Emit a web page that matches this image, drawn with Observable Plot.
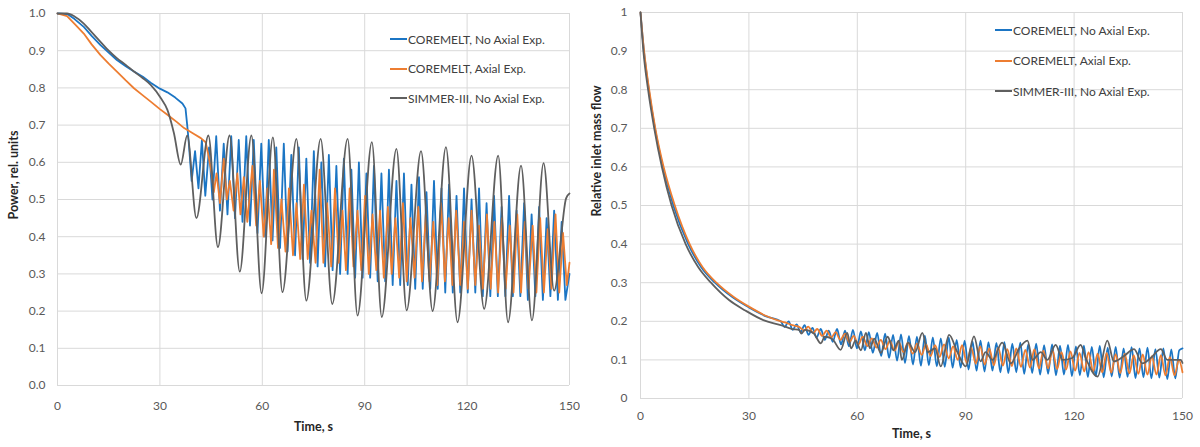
<!DOCTYPE html>
<html>
<head>
<meta charset="utf-8">
<script src="https://cdn.jsdelivr.net/npm/d3@7"></script>
<script src="https://cdn.jsdelivr.net/npm/@observablehq/plot@0.6"></script>
<style>
  html, body { margin: 0; padding: 0; background: #fff; }
  #wrap { display: flex; width: 1200px; height: 447px; }
  .panel { position: relative; }
  .legend { position: absolute; font-family: Lato, sans-serif; font-size: 12px; color: #404040; }
  .legend .row { position: absolute; white-space: nowrap; display: flex; align-items: center; height: 16px; }
  .legend .sw { display: inline-block; width: 17px; height: 0; border-top: 2px solid; margin-right: 1px; }
</style>
</head>
<body>
<div id="wrap">
  <div class="panel" id="left" style="width:580px;height:447px"></div>
  <div class="panel" id="right" style="width:620px;height:447px"></div>
</div>
<script>
// ---------- data ----------
const seriesNames = ["COREMELT, No Axial Exp.", "COREMELT, Axial Exp.", "SIMMER-III, No Axial Exp."];
const seriesColors = ["#1b75c4", "#ed7d31", "#5f5f5f"];
const xTicks = [0, 30, 60, 90, 120, 150];
const powerTicks = [0, 0.1, 0.2, 0.3, 0.4, 0.5, 0.6, 0.7, 0.8, 0.9, 1.0];
const flowTicks = [0, 0.1, 0.2, 0.3, 0.4, 0.5, 0.6, 0.7, 0.8, 0.9, 1];
const powerTitle = "Power, rel. units";
const flowTitle = "Relative inlet mass flow";
const timeTitle = "Time, s";

// Power: COREMELT, No Axial Exp. [time, value]
const powerCoremeltNoAx = [[0,1.0],[3,0.998],[5,0.985],[7.7,0.964],[10,0.94],[12.6,0.915],[15,0.895],[17.4,0.875],[20,0.858],[22.4,0.844],[25,0.83],[27.3,0.814],[30,0.798],[32.2,0.788],[34.5,0.774],[36.6,0.758],[37.5,0.745],[38.0,0.70],[38.4,0.66],
[39.3,0.55],[40.3,0.63],[41.3,0.53],[42.3,0.66],[43.3,0.51],[44.4,0.64],[45.4,0.50],[46.5,0.67],[47.6,0.47],[48.7,0.65],[49.8,0.46],[50.9,0.67],[52.0,0.45],[53.1,0.66],[54.2,0.44],[55.3,0.67],[56.4,0.43],[57.5,0.66],[58.6,0.41],[59.7,0.65],[60.8,0.40],[61.9,0.66],[63.0,0.39],[64.1,0.64],[65.2,0.37],[66.3,0.65],[67.4,0.36],[68.5,0.62],[69.6,0.35],[70.7,0.64],[71.8,0.34],[72.9,0.61],[74.0,0.33],[75.1,0.63],[76.2,0.32],[77.3,0.60],[78.4,0.32],[79.5,0.62],[80.6,0.31],[81.7,0.59],[82.8,0.30],[83.9,0.61],[85.0,0.30],[86.1,0.58],[87.2,0.29],[88.3,0.60],[89.4,0.29],[90.5,0.57],[91.6,0.29],[92.7,0.59],[93.8,0.28],[94.9,0.57],[96.0,0.28],[97.1,0.58],[98.2,0.27],[99.3,0.55],[100.4,0.27],[101.5,0.57],[102.6,0.27],[103.7,0.54],[104.8,0.26],[105.9,0.56],[107.0,0.26],[108.1,0.52],[109.2,0.26],[110.3,0.55],[111.4,0.26],[112.5,0.53],[113.6,0.25],[114.7,0.54],[115.8,0.25],[116.9,0.51],[118.0,0.25],[119.1,0.53],[120.2,0.25],[121.3,0.50],[122.4,0.25],[123.5,0.53],[124.6,0.24],[125.7,0.49],[126.8,0.24],[127.9,0.51],[129.0,0.24],[130.1,0.48],[131.2,0.24],[132.3,0.51],[133.4,0.24],[134.5,0.47],[135.6,0.24],[136.7,0.49],[137.8,0.23],[138.9,0.46],[140.0,0.24],[141.1,0.48],[142.2,0.23],[143.3,0.45],[144.4,0.24],[145.5,0.47],[146.6,0.23],[147.7,0.44],[148.8,0.23],[150,0.30]];

// Power: COREMELT, Axial Exp.
const powerCoremeltAx = [[0,1.0],[2.8,0.993],[5,0.972],[7.7,0.946],[10,0.917],[12.6,0.888],[15,0.865],[17.4,0.844],[20,0.82],[22.4,0.799],[25,0.78],[27.3,0.763],[30,0.743],[32.2,0.728],[35,0.708],[37.1,0.692],[40,0.676],[42,0.665],[43.4,0.654],[44.2,0.62],[45.0,0.58],[45.8,0.52],[46.6,0.57],[47.6,0.49],[48.7,0.61],[49.6,0.50],[50.5,0.55],[51.6,0.47],[52.7,0.57],[53.6,0.46],[54.6,0.56],[55.6,0.44],[57.1,0.59],[58.2,0.43],[59.3,0.55],[60.4,0.40],[61.5,0.53],[62.6,0.38],[63.4,0.58],[64.6,0.37],[65.6,0.50],[66.8,0.36],[67.8,0.53],[69.0,0.35],[70.0,0.49],[71.1,0.34],[72.2,0.54],[73.3,0.34],[74.4,0.47],[75.6,0.33],[76.8,0.58],[77.9,0.33],[79.0,0.49],[80.2,0.32],[81.3,0.53],[82.4,0.33],[83.5,0.47],[84.5,0.31],[85.6,0.53],[86.7,0.32],[87.9,0.47],[89.0,0.31],[90.1,0.51],[91.2,0.30],[92.3,0.46],[93.4,0.31],[94.5,0.47],[95.6,0.29],[96.8,0.48],[97.9,0.30],[99.0,0.45],[100.1,0.29],[101.2,0.49],[102.3,0.28],[103.4,0.45],[104.6,0.29],[105.7,0.48],[106.8,0.28],[107.9,0.46],[109.0,0.28],[110.1,0.44],[111.3,0.27],[112.4,0.49],[113.5,0.28],[114.6,0.45],[115.7,0.27],[116.8,0.47],[118.0,0.27],[119.1,0.44],[120.2,0.26],[121.3,0.47],[122.4,0.27],[123.5,0.43],[124.6,0.26],[125.8,0.46],[126.9,0.26],[128.0,0.44],[129.1,0.25],[130.2,0.45],[131.3,0.26],[132.5,0.43],[133.6,0.25],[134.7,0.46],[135.8,0.25],[136.9,0.44],[138.0,0.26],[139.2,0.43],[140.3,0.25],[141.4,0.45],[142.5,0.25],[143.6,0.42],[144.7,0.26],[145.9,0.46],[147.0,0.25],[148.1,0.41],[149.2,0.27],[150,0.33]];

// Power: SIMMER-III, No Axial Exp.
const powerSimmerNoAx = [[0,1.0],[2.8,1.0],[5,0.992],[7.7,0.973],[10,0.95],[12.6,0.924],[15,0.9],[17.4,0.88],[20,0.862],[22.4,0.844],[25,0.826],[27.3,0.808],[30.3,0.772],[32.2,0.741],[34.1,0.679],[36.1,0.594],[38.0,0.672],[40.7,0.45],[44.2,0.672],[47.0,0.372],[50.4,0.672],[53.4,0.306],[56.8,0.672],[59.8,0.248],[63.1,0.667],[65.9,0.251],[70.0,0.663],[72.9,0.228],[77.1,0.663],[80.5,0.219],[85.0,0.663],[87.9,0.188],[92.1,0.654],[95.0,0.184],[99.3,0.636],[102.3,0.202],[106.5,0.63],[109.9,0.2],[113.8,0.641],[117.2,0.17],[121.3,0.618],[125.0,0.206],[129.1,0.618],[132.0,0.17],[135.8,0.591],[139.0,0.175],[142.4,0.598],[145.5,0.255],[149.0,0.503],[150,0.516]];

// Flow: COREMELT, No Axial Exp.
const flowCoremeltNoAx = [[0,1],[0.9,0.905],[2.3,0.8],[4.0,0.7],[6.2,0.6],[9.1,0.5],[13.2,0.4],[16.8,0.34],[20.6,0.3],[25.5,0.262],[30,0.236],[35,0.212],[38.8,0.2],
[39.9,0.185],[41.0,0.2],[42.1,0.178],[43.2,0.192],[44.3,0.172],[45.4,0.19],[46.5,0.165],[47.6,0.183],[48.7,0.158],[49.9,0.18],[51.0,0.152],[52.1,0.176],[53.2,0.147],[54.4,0.18],[55.5,0.14],[56.6,0.176],[57.7,0.135],[58.8,0.178],[59.9,0.13],[61.0,0.174],[62.1,0.125],[63.2,0.172],[64.3,0.118],[65.5,0.17],[66.6,0.11],[67.7,0.168],[68.8,0.105],[69.9,0.165],[71.0,0.098],[72.1,0.166],[73.2,0.092],[74.3,0.162],[75.4,0.088],[76.5,0.16],[77.6,0.085],[78.7,0.163],[79.8,0.086],[80.9,0.158],[82.0,0.083],[83.1,0.156],[84.2,0.082],[85.3,0.158],[86.4,0.08],[87.5,0.152],[88.6,0.08],[89.7,0.15],[90.8,0.075],[91.9,0.148],[93.0,0.072],[94.1,0.15],[95.2,0.07],[96.3,0.146],[97.4,0.072],[98.5,0.144],[99.6,0.068],[100.7,0.146],[101.8,0.066],[102.9,0.142],[104.0,0.068],[105.1,0.145],[106.2,0.064],[107.3,0.14],[108.4,0.066],[109.5,0.142],[110.6,0.062],[111.7,0.138],[112.8,0.064],[113.9,0.14],[115.0,0.06],[116.1,0.137],[117.2,0.062],[118.3,0.139],[119.4,0.058],[120.5,0.135],[121.6,0.06],[122.7,0.137],[123.8,0.056],[124.9,0.134],[126.0,0.058],[127.1,0.136],[128.2,0.055],[129.3,0.132],[130.4,0.057],[131.5,0.134],[132.6,0.054],[133.7,0.13],[134.8,0.056],[135.9,0.133],[137.0,0.053],[138.1,0.13],[139.2,0.055],[140.3,0.132],[141.4,0.052],[142.5,0.128],[143.6,0.054],[144.7,0.13],[145.8,0.05],[146.9,0.127],[148.0,0.052],[149.1,0.125],[150,0.13]];

// Flow: COREMELT, Axial Exp.
const flowCoremeltAx = [[0,1],[0.9,0.908],[2.4,0.8],[4.1,0.7],[6.4,0.6],[9.5,0.5],[13.6,0.4],[17.2,0.34],[21,0.3],[25.8,0.263],[30,0.238],[35,0.213],[37.8,0.203],[40,0.197],[42,0.19],[44,0.185],[45.3,0.176],[46.4,0.186],[47.8,0.17],[48.9,0.18],[50.3,0.162],[51.5,0.176],[52.8,0.158],[54.0,0.172],[55.3,0.152],[56.6,0.168],[57.8,0.146],[59.0,0.162],[60.3,0.14],[61.5,0.16],[62.8,0.136],[64.0,0.156],[65.3,0.132],[66.5,0.152],[67.8,0.128],[69.0,0.15],[70.3,0.124],[71.5,0.146],[72.8,0.12],[74.0,0.145],[75.3,0.116],[76.5,0.142],[77.8,0.113],[79.0,0.14],[80.3,0.11],[81.5,0.138],[82.8,0.108],[84.0,0.14],[85.3,0.104],[86.5,0.135],[87.8,0.1],[89.0,0.138],[90.3,0.092],[91.5,0.132],[92.8,0.09],[94.0,0.135],[95.3,0.088],[96.5,0.13],[97.8,0.086],[99.0,0.132],[100.3,0.085],[101.5,0.128],[102.8,0.084],[104.0,0.13],[105.3,0.082],[106.5,0.126],[107.8,0.08],[109.0,0.128],[110.3,0.078],[111.5,0.124],[112.8,0.078],[114.0,0.125],[115.3,0.076],[116.5,0.12],[117.8,0.075],[119.0,0.122],[120.3,0.072],[121.5,0.118],[122.8,0.07],[124.0,0.12],[125.3,0.07],[126.5,0.116],[127.8,0.068],[129.0,0.118],[130.3,0.067],[131.5,0.115],[132.8,0.066],[134.0,0.116],[135.3,0.065],[136.5,0.112],[137.8,0.064],[139.0,0.114],[140.3,0.062],[141.5,0.11],[142.8,0.062],[144.0,0.112],[145.3,0.06],[146.5,0.108],[147.8,0.06],[149.0,0.1],[150,0.068]];

// Flow: SIMMER-III, No Axial Exp.
const flowSimmerNoAx = [[0,1],[0.8,0.9],[2.1,0.8],[3.8,0.7],[5.9,0.6],[8.6,0.5],[12.5,0.4],[16,0.34],[19.5,0.3],[24.5,0.255],[29,0.228],[34,0.203],[38.8,0.19],[42,0.18],[44,0.177],[44.5,0.168],[45.5,0.178],[48,0.168],[49.9,0.143],[51,0.16],[53,0.155],[55.4,0.126],[57.2,0.17],[58.3,0.13],[59.5,0.15],[61,0.125],[62.4,0.17],[63.5,0.13],[64.7,0.155],[66.5,0.118],[68.4,0.16],[70,0.125],[71.5,0.15],[72.3,0.1],[74.1,0.145],[76,0.12],[78,0.17],[79.5,0.12],[81.5,0.13],[83.1,0.083],[85.4,0.165],[87.7,0.12],[90,0.083],[92.3,0.161],[94.1,0.096],[95.5,0.12],[97.4,0.1],[100.1,0.145],[102.5,0.091],[104.8,0.13],[107.1,0.15],[108.5,0.1],[110.8,0.12],[112.6,0.1],[114.9,0.139],[116.8,0.1],[119.5,0.105],[121.8,0.139],[123.2,0.105],[126.5,0.057],[129.2,0.15],[131.0,0.096],[133.8,0.11],[136.6,0.128],[138.9,0.091],[141.2,0.105],[144.0,0.128],[145.8,0.1],[149.5,0.1],[150,0.092]];

// ---------- drawing ----------
const font = "Lato, 'Open Sans', sans-serif";

function panel({width, mLeft, mRight, mTop, mBottom, yTicks, yFormat, yTitle, series, xPad, yPad, yTitleDx, yTitleDy, xTitleDy, curves}) {
  const marks = [
    Plot.gridX(xTicks, {stroke: "#d9d9d9", strokeOpacity: 1, strokeWidth: 1}),
    Plot.gridY(yTicks, {stroke: "#d9d9d9", strokeOpacity: 1, strokeWidth: 1}),
    Plot.axisX(xTicks, {tickSize: 0, tickPadding: xPad, label: null, fill: "#595959", fontSize: 12}),
    Plot.axisY(yTicks, {tickSize: 0, tickPadding: yPad, tickFormat: yFormat, label: null, fill: "#595959", fontSize: 12}),
  ];
  series.forEach((s, i) => {
    marks.push(Plot.line(s, {x: d => d[0], y: d => d[1], stroke: seriesColors[i], strokeWidth: 1.8, curve: curves[i]}));
  });
  marks.push(Plot.text([timeTitle], {frameAnchor: "bottom", dy: xTitleDy, fontWeight: "bold", fill: "#262626", fontSize: 12.5}));
  marks.push(Plot.text([yTitle], {frameAnchor: "left", dx: yTitleDx, dy: yTitleDy, rotate: -90, fontWeight: "bold", fill: "#262626", fontSize: 12.5}));
  return Plot.plot({
    width, height: 447,
    marginLeft: mLeft, marginRight: mRight, marginTop: mTop, marginBottom: mBottom,
    style: {fontFamily: font, fontSize: "12px", background: "white", overflow: "visible"},
    x: {domain: [0, 150]},
    y: {domain: [0, 1]},
    marks
  });
}

function legend(container, left, top, gap) {
  const lg = document.createElement("div");
  lg.className = "legend";
  lg.style.left = left + "px";
  lg.style.top = top + "px";
  seriesNames.forEach((name, i) => {
    const row = document.createElement("div");
    row.className = "row";
    row.style.top = (i * gap) + "px";
    const sw = document.createElement("span");
    sw.className = "sw";
    sw.style.borderTopColor = seriesColors[i];
    row.appendChild(sw);
    row.appendChild(document.createTextNode(name));
    lg.appendChild(row);
  });
  container.appendChild(lg);
}

const leftEl = document.getElementById("left");
leftEl.appendChild(panel({
  width: 580, mLeft: 57, mRight: 11, mTop: 13, mBottom: 62,
  yTicks: powerTicks, yFormat: ".1f", yTitle: powerTitle,
  series: [powerCoremeltNoAx, powerCoremeltAx, powerSimmerNoAx],
  xPad: 16, yPad: 12, yTitleDx: -44, yTitleDy: 20, xTitleDy: 45,
  curves: ["linear", "linear", "monotone-x"]
}));
legend(leftEl, 390, 31, 29.5);

const rightEl = document.getElementById("right");
rightEl.appendChild(panel({
  width: 620, mLeft: 60, mRight: 18, mTop: 12, mBottom: 49,
  yTicks: flowTicks, yFormat: d => String(d), yTitle: flowTitle,
  series: [flowCoremeltNoAx, flowCoremeltAx, flowSimmerNoAx],
  xPad: 13, yPad: 13, yTitleDx: -44, yTitleDy: 11, xTitleDy: 39,
  curves: ["monotone-x", "monotone-x", "monotone-x"]
}));
legend(rightEl, 415, 22, 30.5);
</script>
</body>
</html>
